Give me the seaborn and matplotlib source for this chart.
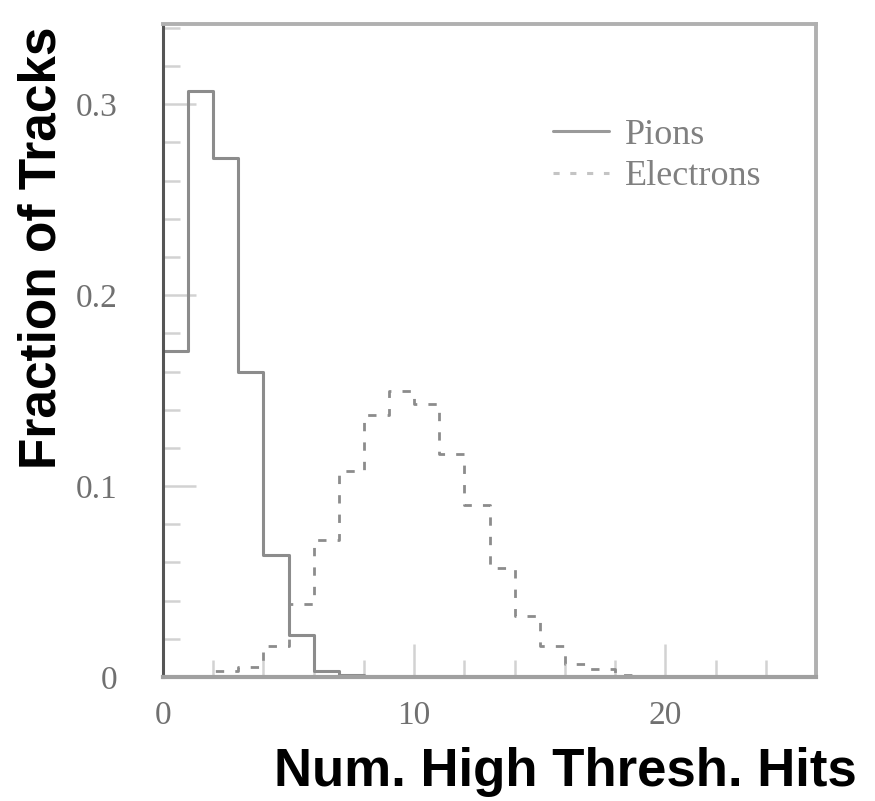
import numpy as np
import pandas as pd
import matplotlib
matplotlib.use("Agg")
import matplotlib.pyplot as plt
import seaborn as sns
from matplotlib.ticker import MultipleLocator, FixedLocator
from matplotlib.lines import Line2D

# ---- data ----
bin_edges = list(range(0, 27))
pion_frac = [0.171, 0.307, 0.272, 0.160, 0.064, 0.022, 0.003, 0.001] + [0.0] * 18
electron_frac = [0.0, 0.0, 0.003, 0.005, 0.016, 0.038, 0.072, 0.108, 0.137, 0.150,
                 0.143, 0.117, 0.090, 0.057, 0.032, 0.016, 0.007, 0.004, 0.001, 0.0005] + [0.0] * 6
x_ticks = [0, 10, 20]
x_tick_labels = ["0", "10", "20"]
y_ticks = [0, 0.1, 0.2, 0.3]
y_tick_labels = ["0", "0.1", "0.2", "0.3"]
series_names = ["Pions", "Electrons"]

centers = [e + 0.5 for e in bin_edges[:-1]]
df = pd.DataFrame({"hits": centers, "pion": pion_frac, "electron": electron_frac})

sns.set_style("white")
plt.rcParams["font.family"] = ["Liberation Serif", "DejaVu Serif"]

fig = plt.figure(figsize=(8.75, 8.01), dpi=100)
ax = fig.add_axes([163 / 875, 1 - 677 / 801, (816 - 163) / 875, (677 - 24) / 801])

sns.histplot(data=df, x="hits", weights="pion", bins=bin_edges, element="step",
             fill=False, color="#8c8c8c", linewidth=2.2, ax=ax)
sns.histplot(data=df, x="hits", weights="electron", bins=bin_edges, element="step",
             fill=False, color="#8c8c8c", linewidth=2.0, linestyle=(0, (3, 4)), ax=ax)

ax.set_xlim(0, 26)
ax.set_ylim(0, 0.342)
ax.set_xlabel("")
ax.set_ylabel("")

ax.xaxis.set_major_locator(FixedLocator(x_ticks))
ax.set_xticklabels(x_tick_labels)
ax.xaxis.set_minor_locator(MultipleLocator(2))
ax.yaxis.set_major_locator(FixedLocator(y_ticks))
ax.set_yticklabels(y_tick_labels)
ax.yaxis.set_minor_locator(MultipleLocator(0.02))

ax.tick_params(axis="both", which="both", direction="in", colors="#d2d2d2",
               labelcolor="#707070", width=1.8, bottom=True, left=True,
               top=False, right=False)
ax.tick_params(axis="both", which="major", length=24, labelsize=24)
ax.tick_params(axis="both", which="minor", length=12)
ax.tick_params(axis="y", which="major", pad=33)
ax.tick_params(axis="x", which="major", pad=17)

for side, col, lw in [("left", "#555555", 2.2), ("bottom", "#a0a0a0", 3.0),
                      ("top", "#b0b0b0", 2.8), ("right", "#b0b0b0", 2.8)]:
    ax.spines[side].set_visible(True)
    ax.spines[side].set_color(col)
    ax.spines[side].set_linewidth(lw)

handles = [Line2D([], [], color="#9a9a9a", linewidth=2.2),
           Line2D([], [], color="#c4c4c4", linewidth=2.2, linestyle=(0, (2, 3.5)))]
leg = ax.legend(handles, series_names, loc="upper left", bbox_to_anchor=(0.597, 0.855),
                frameon=False, fontsize=26, handlelength=1.55, handletextpad=0.45,
                labelspacing=0.22, borderpad=0, borderaxespad=0)
for t in leg.get_texts():
    t.set_color("#808080")

fig.text(42 / 875, 1 - 248 / 801, "Fraction of Tracks", rotation=90, ha="center",
         va="center", fontsize=37, fontweight="bold", color="black",
         family=["Liberation Sans", "DejaVu Sans"])
fig.text(565 / 875, 1 - 772 / 801, "Num. High Thresh. Hits", ha="center", va="center",
         fontsize=38, fontweight="bold", color="black",
         family=["Liberation Sans", "DejaVu Sans"])

fig.savefig("out.png", dpi=100)
